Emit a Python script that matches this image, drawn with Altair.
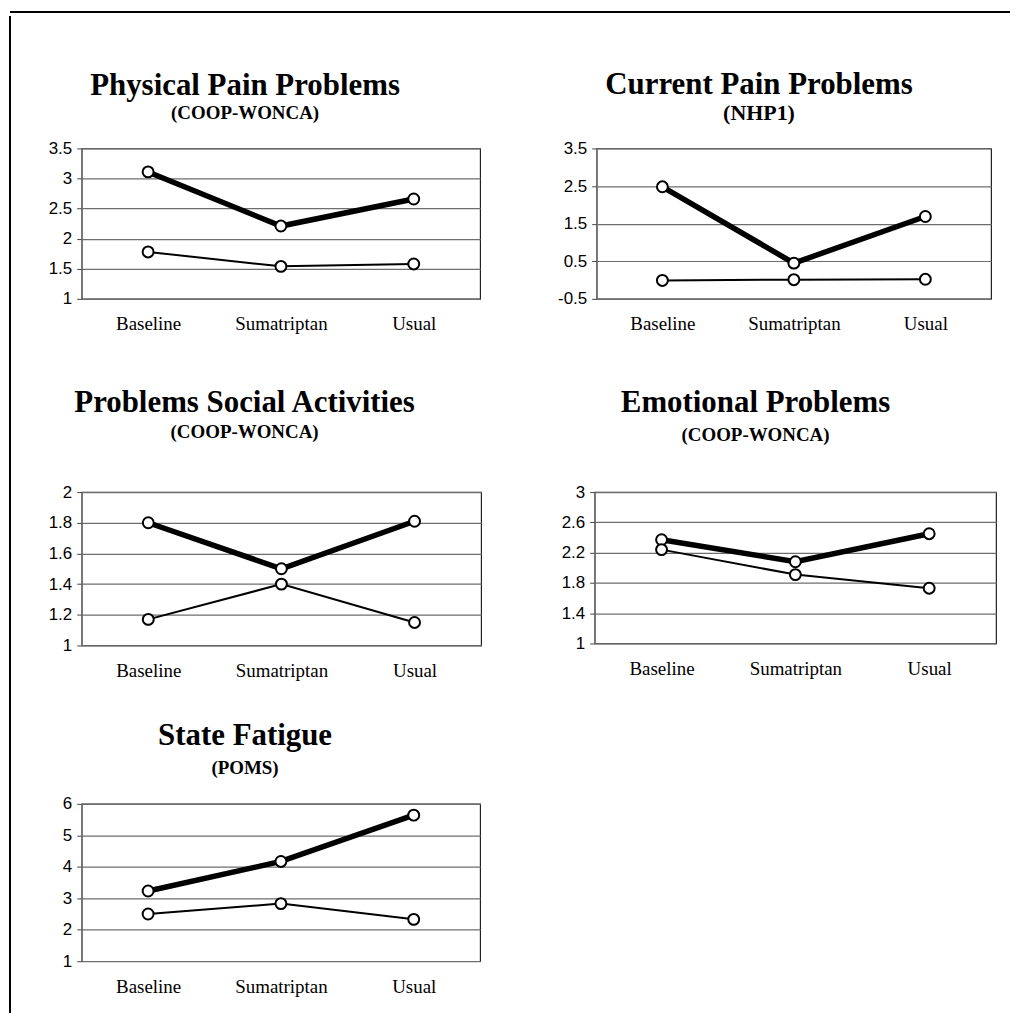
import altair as alt
import pandas as pd

categories = ["Baseline", "Sumatriptan", "Usual"]

phys_thick = [3.11, 2.21, 2.66]
phys_thin = [1.78, 1.54, 1.58]
phys_ticks = [1, 1.5, 2, 2.5, 3, 3.5]

curr_thick = [2.48, 0.45, 1.69]
curr_thin = [-0.01, 0.01, 0.02]
curr_ticks = [-0.5, 0.5, 1.5, 2.5, 3.5]

soc_thick = [1.80, 1.50, 1.81]
soc_thin = [1.17, 1.40, 1.15]
soc_ticks = [1, 1.2, 1.4, 1.6, 1.8, 2]

emo_thick = [2.37, 2.08, 2.45]
emo_thin = [2.24, 1.91, 1.73]
emo_ticks = [1, 1.4, 1.8, 2.2, 2.6, 3]

fat_thick = [3.23, 4.17, 5.64]
fat_thin = [2.50, 2.83, 2.33]
fat_ticks = [1, 2, 3, 4, 5, 6]

SERIF = "Liberation Serif"
SANS = "Liberation Sans"
NOVIEW = alt.ViewBackground(stroke="transparent")


def panel(title, subtitle, thick, thin, ticks, w, h, dx, offset, sub_size, sub_pad):
    df = pd.DataFrame({
        "cat": categories * 2,
        "val": list(thick) + list(thin),
        "series": ["thick"] * 3 + ["thin"] * 3,
    })
    x = alt.X("cat:N", sort=categories,
              scale=alt.Scale(type="point", padding=0.5),
              axis=alt.Axis(title=None, domain=False, ticks=False, grid=False,
                            labelFont=SERIF, labelFontSize=19, labelColor="black",
                            labelPadding=16, labelAngle=0))
    y = alt.Y("val:Q", scale=alt.Scale(domain=[ticks[0], ticks[-1]], nice=False, zero=False),
              axis=alt.Axis(title=None, values=ticks, labelExpr="'' + datum.value",
                            grid=True, gridColor="#6e6e6e", gridWidth=1.2,
                            domainColor="#777", tickColor="#444", tickSize=5,
                            labelFont=SANS, labelFontSize=17, labelColor="black",
                            labelPadding=5))
    base = alt.Chart(df)
    lines = base.mark_line(color="black").encode(
        x=x, y=y, detail="series:N",
        strokeWidth=alt.StrokeWidth("series:N", scale=alt.Scale(domain=["thick", "thin"], range=[5.5, 2]), legend=None),
    )
    pts = base.mark_point(shape="circle", filled=False, fill="white", fillOpacity=1,
                          stroke="black", strokeWidth=2, size=120, opacity=1).encode(x=x, y=y)
    return alt.layer(lines, pts).properties(
        width=w, height=h,
        title=alt.TitleParams(text=title, subtitle=subtitle, font=SERIF, fontSize=31,
                              fontWeight="bold", color="black", subtitleFont=SERIF,
                              subtitleFontSize=sub_size, subtitleFontWeight="bold",
                              subtitleColor="black", subtitlePadding=sub_pad,
                              anchor="middle", frame="group", offset=offset, dx=dx),
    )


p1 = panel("Physical Pain Problems", "(COOP-WONCA)", phys_thick, phys_thin, phys_ticks, 400, 151, -36, 16, 19, 2)
p2 = panel("Current Pain Problems", "(NHP1)", curr_thick, curr_thin, curr_ticks, 396, 151, -35, 15, 22, 2)
p3 = panel("Problems Social Activities", "(COOP-WONCA)", soc_thick, soc_thin, soc_ticks, 401, 154, -37, 40, 19, 4)
p4 = panel("Emotional Problems", "(COOP-WONCA)", emo_thick, emo_thin, emo_ticks, 403, 152, -40, 37, 19, 7)
p5 = panel("State Fatigue", "(POMS)", fat_thick, fat_thin, fat_ticks, 400, 158, -36, 16, 19, 7)

row1 = alt.hconcat(p1, p2, spacing=76)
row2 = alt.hconcat(p3, p4, spacing=78)
upper = alt.vconcat(row1, row2, spacing=52)
content = alt.vconcat(upper, p5, spacing=38)

# outer frame lines (top and left edges of the figure box)
frame_df = pd.DataFrame({"k": [0]})
top_bar = alt.Chart(frame_df).mark_rule(color="black", strokeWidth=2).encode(
    x=alt.value(0), x2=alt.value(1004), y=alt.value(0)
).properties(width=1004, height=1, view=NOVIEW)
left_bar = alt.Chart(frame_df).mark_rule(color="black", strokeWidth=2).encode(
    x=alt.value(0), y=alt.value(-133), y2=alt.value(868)
).properties(width=1, height=1, view=NOVIEW)

body = alt.hconcat(left_bar, content, spacing=35)
chart = alt.vconcat(top_bar, body, spacing=0).properties(
    padding=0, background="white"
).configure_view(stroke="#222", strokeWidth=1.2)

chart.save("out.html", embed_options={"renderer": "svg", "actions": False})
